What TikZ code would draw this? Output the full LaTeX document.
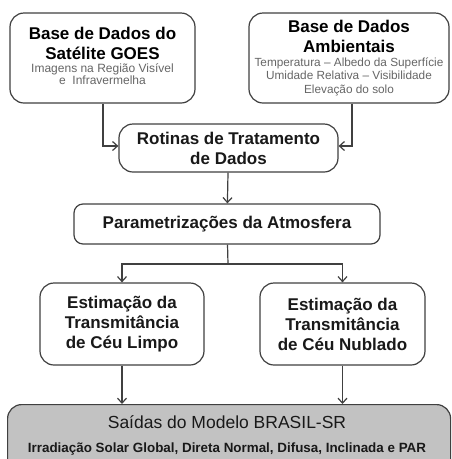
\documentclass[tikz,border=0pt]{standalone}
\usepackage{fontspec}
\setmainfont{Liberation Sans}
\usetikzlibrary{arrows.meta}

\begin{document}
\begin{tikzpicture}[x=1pt,y=-1pt,
  box/.style={draw=black!75,line width=1.2pt,rounded corners=14pt,fill=white,align=center,inner sep=0pt},
  ttl/.style={font=\fontsize{17}{20}\selectfont\bfseries,text=black!90},
  flow/.style={draw=black!75,line width=1.2pt,-{Straight Barb[length=5pt,width=9pt]}}]
\useasboundingbox (0,0) rectangle (452,459);
% top row
\node [box,minimum width=185pt,minimum height=90pt] (goes) at (102.5,58)
  {\parbox{180pt}{\centering\fontsize{17}{20}\selectfont\bfseries Base de Dados do\\Satélite GOES\\
   \fontsize{12}{12.5}\selectfont\mdseries\color{black!60} Imagens na Região Visível\\e\ \ Infravermelha\\[4pt]}};
\node [box,minimum width=200pt,minimum height=90pt] (amb) at (349,58)
  {\parbox{196pt}{\centering\fontsize{17}{20}\selectfont\bfseries Base de Dados\\Ambientais\\
   \fontsize{11.8}{13.5}\selectfont\mdseries\color{black!60} Temperatura -- Albedo da Superfície\\Umidade Relativa -- Visibilidade\\Elevação do solo}};
% middle
\node [box,ttl,minimum width=219pt,minimum height=48pt] (rot) at (228.5,148) {Rotinas de Tratamento\\de Dados};
\node [box,ttl,rounded corners=9pt,minimum width=306pt,minimum height=40pt] (par) at (227,224) {Parametrizações da Atmosfera};
\node [box,ttl,minimum width=164pt,minimum height=82pt] (limpo) at (122,324) {Estimação da\\Transmitância\\de Céu Limpo};
\node [box,ttl,minimum width=165pt,minimum height=82pt] (nub) at (342.5,324) {Estimação da\\Transmitância\\de Céu Nublado};
% output
\node [box,fill=black!24,minimum width=443pt,minimum height=70pt,anchor=north west] (out) at (7,404) {};
\node [font=\fontsize{17.5}{20}\selectfont,text=black!90] (outt) at (227,422) {Saídas do Modelo BRASIL-SR};
\node [font=\fontsize{13.4}{14}\selectfont\bfseries,text=black!90] (outs) at (227,449) {Irradiação Solar Global, Direta Normal, Difusa, Inclinada e PAR};
% arrows
\coordinate (sp) at (228,264);
\draw [flow] (goes.south -| 103,0) |- (rot.west |- 0,146);
\draw [flow] (amb.south -| 352,0) |- (rot.east |- 0,146);
\draw [flow] (rot) -- (par);
\draw [draw=black!75,line width=1.2pt] (par) -- (sp);
\draw [flow] (sp) -| (limpo);
\draw [flow] (sp) -| (nub);
\draw [flow] (limpo) -- (limpo |- out.north);
\draw [flow] (nub) -- (nub |- out.north);
\end{tikzpicture}
\end{document}
